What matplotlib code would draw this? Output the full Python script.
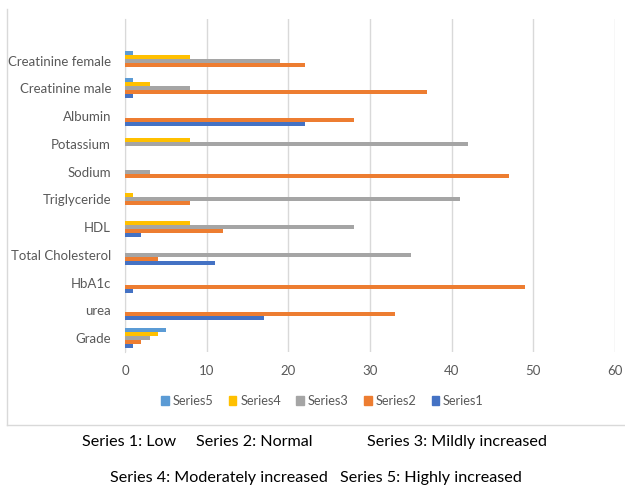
import numpy as np
import matplotlib
matplotlib.use('Agg')
import matplotlib.pyplot as plt
from matplotlib.lines import Line2D
from matplotlib.patches import Patch

plt.rcParams['font.family'] = ['Lato', 'DejaVu Sans']

# Categories listed bottom to top (barh draws index 0 at the bottom)
categories = ['Grade', 'urea', 'HbA1c', 'Total Cholesterol', 'HDL',
              'Triglyceride', 'Sodium', 'Potassium', 'Albumin',
              'Creatinine male', 'Creatinine female']

series1 = [1, 17, 1, 11, 2, 0, 0, 0, 22, 1, 0]
series2 = [2, 33, 49, 4, 12, 8, 47, 0, 28, 37, 22]
series3 = [3, 0, 0, 35, 28, 41, 3, 42, 0, 8, 19]
series4 = [4, 0, 0, 0, 8, 1, 0, 8, 0, 3, 8]
series5 = [5, 0, 0, 0, 0, 0, 0, 0, 0, 1, 1]

names = ['Series1', 'Series2', 'Series3', 'Series4', 'Series5']
colors = ['#4472C4', '#ED7D31', '#A5A5A5', '#FFC000', '#5B9BD5']
values = [series1, series2, series3, series4, series5]

fig = plt.figure(figsize=(6.25, 4.9), dpi=100)
ax = fig.add_axes([0.2, 0.2816, 0.784, 0.6796])

y = np.arange(len(categories))
h = 0.144
for i, (vals, col) in enumerate(zip(values, colors)):
    ax.barh(y + (i - 2) * h, vals, height=h, color=col, zorder=3)

ax.set_xlim(0, 60)
ax.set_ylim(-0.5, len(categories) + 0.5)
ax.set_xticks(np.arange(0, 61, 10))
ax.set_yticks(y)
ax.set_yticklabels(categories)
ax.tick_params(axis='both', length=0, labelsize=9.5, colors='#595959')
ax.tick_params(axis='x', pad=9)
ax.tick_params(axis='y', pad=10)
ax.grid(axis='x', color='#d9d9d9', linewidth=1, zorder=0)
for s in ['top', 'right', 'bottom']:
    ax.spines[s].set_visible(False)
ax.spines['left'].set_color('#d9d9d9')

handles = [Patch(color=c) for c in colors[::-1]]
fig.legend(handles, names[::-1], loc='center', bbox_to_anchor=(0.516, 1 - 401 / 490),
           ncol=5, frameon=False, fontsize=9.2, labelcolor='#595959',
           handlelength=0.6, handleheight=0.6, handletextpad=0.3,
           columnspacing=1.2)

# chart frame (left and bottom edges)
fig.add_artist(Line2D([7 / 625, 7 / 625], [1 - 9 / 490, 1 - 425 / 490],
                      color='#d9d9d9', lw=1, transform=fig.transFigure))
fig.add_artist(Line2D([7 / 625, 1], [1 - 425 / 490, 1 - 425 / 490],
                      color='#d9d9d9', lw=1, transform=fig.transFigure))

# caption below the chart
cap = dict(fontsize=11.6, color='black', va='center', ha='left')
fig.text(82 / 625, 1 - 442 / 490, 'Series 1: Low', **cap)
fig.text(196 / 625, 1 - 442 / 490, 'Series 2: Normal', **cap)
fig.text(367 / 625, 1 - 442 / 490, 'Series 3: Mildly increased', **cap)
fig.text(110 / 625, 1 - 478 / 490, 'Series 4: Moderately increased', **cap)
fig.text(340 / 625, 1 - 478 / 490, 'Series 5: Highly increased', **cap)

fig.savefig('out.png', dpi=100)
